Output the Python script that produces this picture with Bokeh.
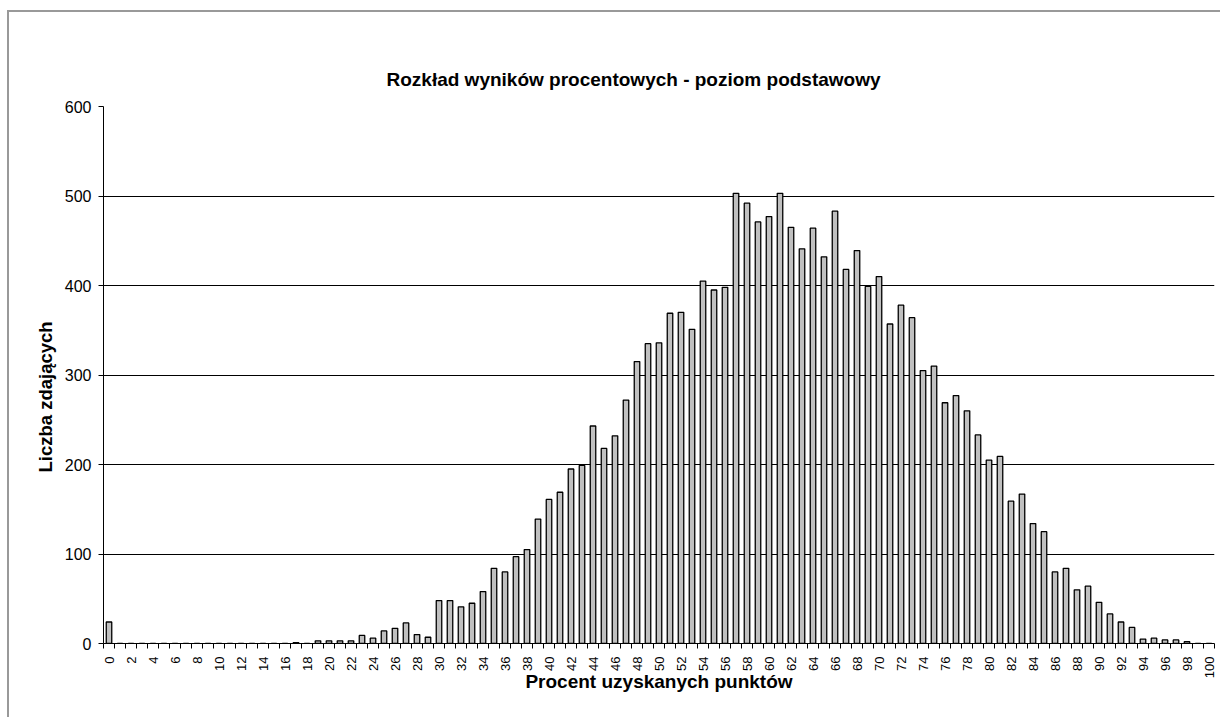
import math
from bokeh.plotting import figure
from bokeh.models import FixedTicker, Range1d, Title
from bokeh.embed import file_html
from bokeh.resources import INLINE

# ---- data ----
percent = list(range(0, 101))
counts = [
    24, 0, 0, 0, 0, 0, 0, 0, 0, 0,          # 0-9
    0, 0, 0, 0, 0, 0, 0, 1, 0, 3,           # 10-19
    3, 3, 3, 9, 6, 14, 17, 23, 10, 7,       # 20-29
    48, 48, 41, 45, 58, 84, 80, 97, 105, 139,   # 30-39
    161, 169, 195, 199, 243, 218, 232, 272, 315, 335,  # 40-49
    336, 369, 370, 351, 405, 395, 398, 503, 492, 471,  # 50-59
    477, 503, 465, 441, 464, 432, 483, 418, 439, 399,  # 60-69
    410, 357, 378, 364, 305, 310, 269, 277, 260, 233,  # 70-79
    205, 209, 159, 167, 134, 125, 80, 84, 60, 64,      # 80-89
    46, 33, 24, 18, 5, 6, 4, 4, 2, 0,                  # 90-99
    0,                                                  # 100
]
x_tick_values = list(range(0, 101, 2))
y_tick_values = [0, 100, 200, 300, 400, 500, 600]

title_text = "Rozkład wyników procentowych - poziom podstawowy"
x_title = "Procent uzyskanych punktów"
y_title = "Liczba zdających"

FONT = "Liberation Sans"

p = figure(
    output_backend="svg", toolbar_location=None,
    frame_width=1111, frame_height=537,
    min_border_left=94, min_border_right=6, min_border_top=94, min_border_bottom=74,
    x_range=Range1d(-0.5, 100.5), y_range=Range1d(0, 600),
    background_fill_color="white", border_fill_color="white",
)
p.styles = {"border-left": "2px solid #999999", "border-top": "2px solid #999999",
            "margin-top": "10px", "margin-left": "7px"}
p.outline_line_color = None

# title
p.title.text = title_text
p.title.text_font = FONT
p.title.text_font_size = "19px"
p.title.text_font_style = "bold"
p.title.text_color = "black"
p.title.align = "left"
p.title.offset = 283
p.title.standoff = 33

# bars
p.vbar(x=percent, top=counts, width=0.5, fill_color="#C0C0C0",
       line_color="black", line_width=1.3)

# y axis
p.yaxis.ticker = FixedTicker(ticks=y_tick_values)
p.yaxis.axis_line_color = "black"
p.yaxis.major_tick_line_color = "black"
p.yaxis.major_tick_out = 5
p.yaxis.major_tick_in = 0
p.yaxis.minor_tick_line_color = None
p.yaxis.major_label_text_font = FONT
p.yaxis.major_label_text_font_size = "16px"
p.yaxis.major_label_text_color = "black"
p.yaxis.major_label_standoff = 7

# y axis title as a left-side title
p.add_layout(Title(text=y_title, text_font=FONT, text_font_size="18.5px",
                   text_font_style="bold", text_color="black",
                   align="left", offset=171, standoff=12), "left")

# x axis
p.xaxis.ticker = FixedTicker(ticks=x_tick_values,
                             minor_ticks=[i - 0.5 for i in range(0, 102)])
p.xaxis.axis_line_color = "black"
p.xaxis.major_tick_out = 0
p.xaxis.major_tick_in = 0
p.xaxis.minor_tick_line_color = "black"
p.xaxis.minor_tick_out = 5
p.xaxis.minor_tick_in = 0
p.xaxis.major_label_orientation = math.pi / 2
p.xaxis.major_label_text_font = FONT
p.xaxis.major_label_text_font_size = "13px"
p.xaxis.major_label_text_color = "black"
p.xaxis.major_label_standoff = 8
p.xaxis.axis_label = x_title
p.xaxis.axis_label_text_font = FONT
p.xaxis.axis_label_text_font_size = "19px"
p.xaxis.axis_label_text_font_style = "bold"
p.xaxis.axis_label_text_color = "black"
p.xaxis.axis_label_standoff = -10

# grid
p.xgrid.grid_line_color = None
p.ygrid.ticker = FixedTicker(ticks=y_tick_values)
p.ygrid.grid_line_color = "black"
p.ygrid.grid_line_width = 1

open("out.html", "w").write(file_html(p, INLINE))
